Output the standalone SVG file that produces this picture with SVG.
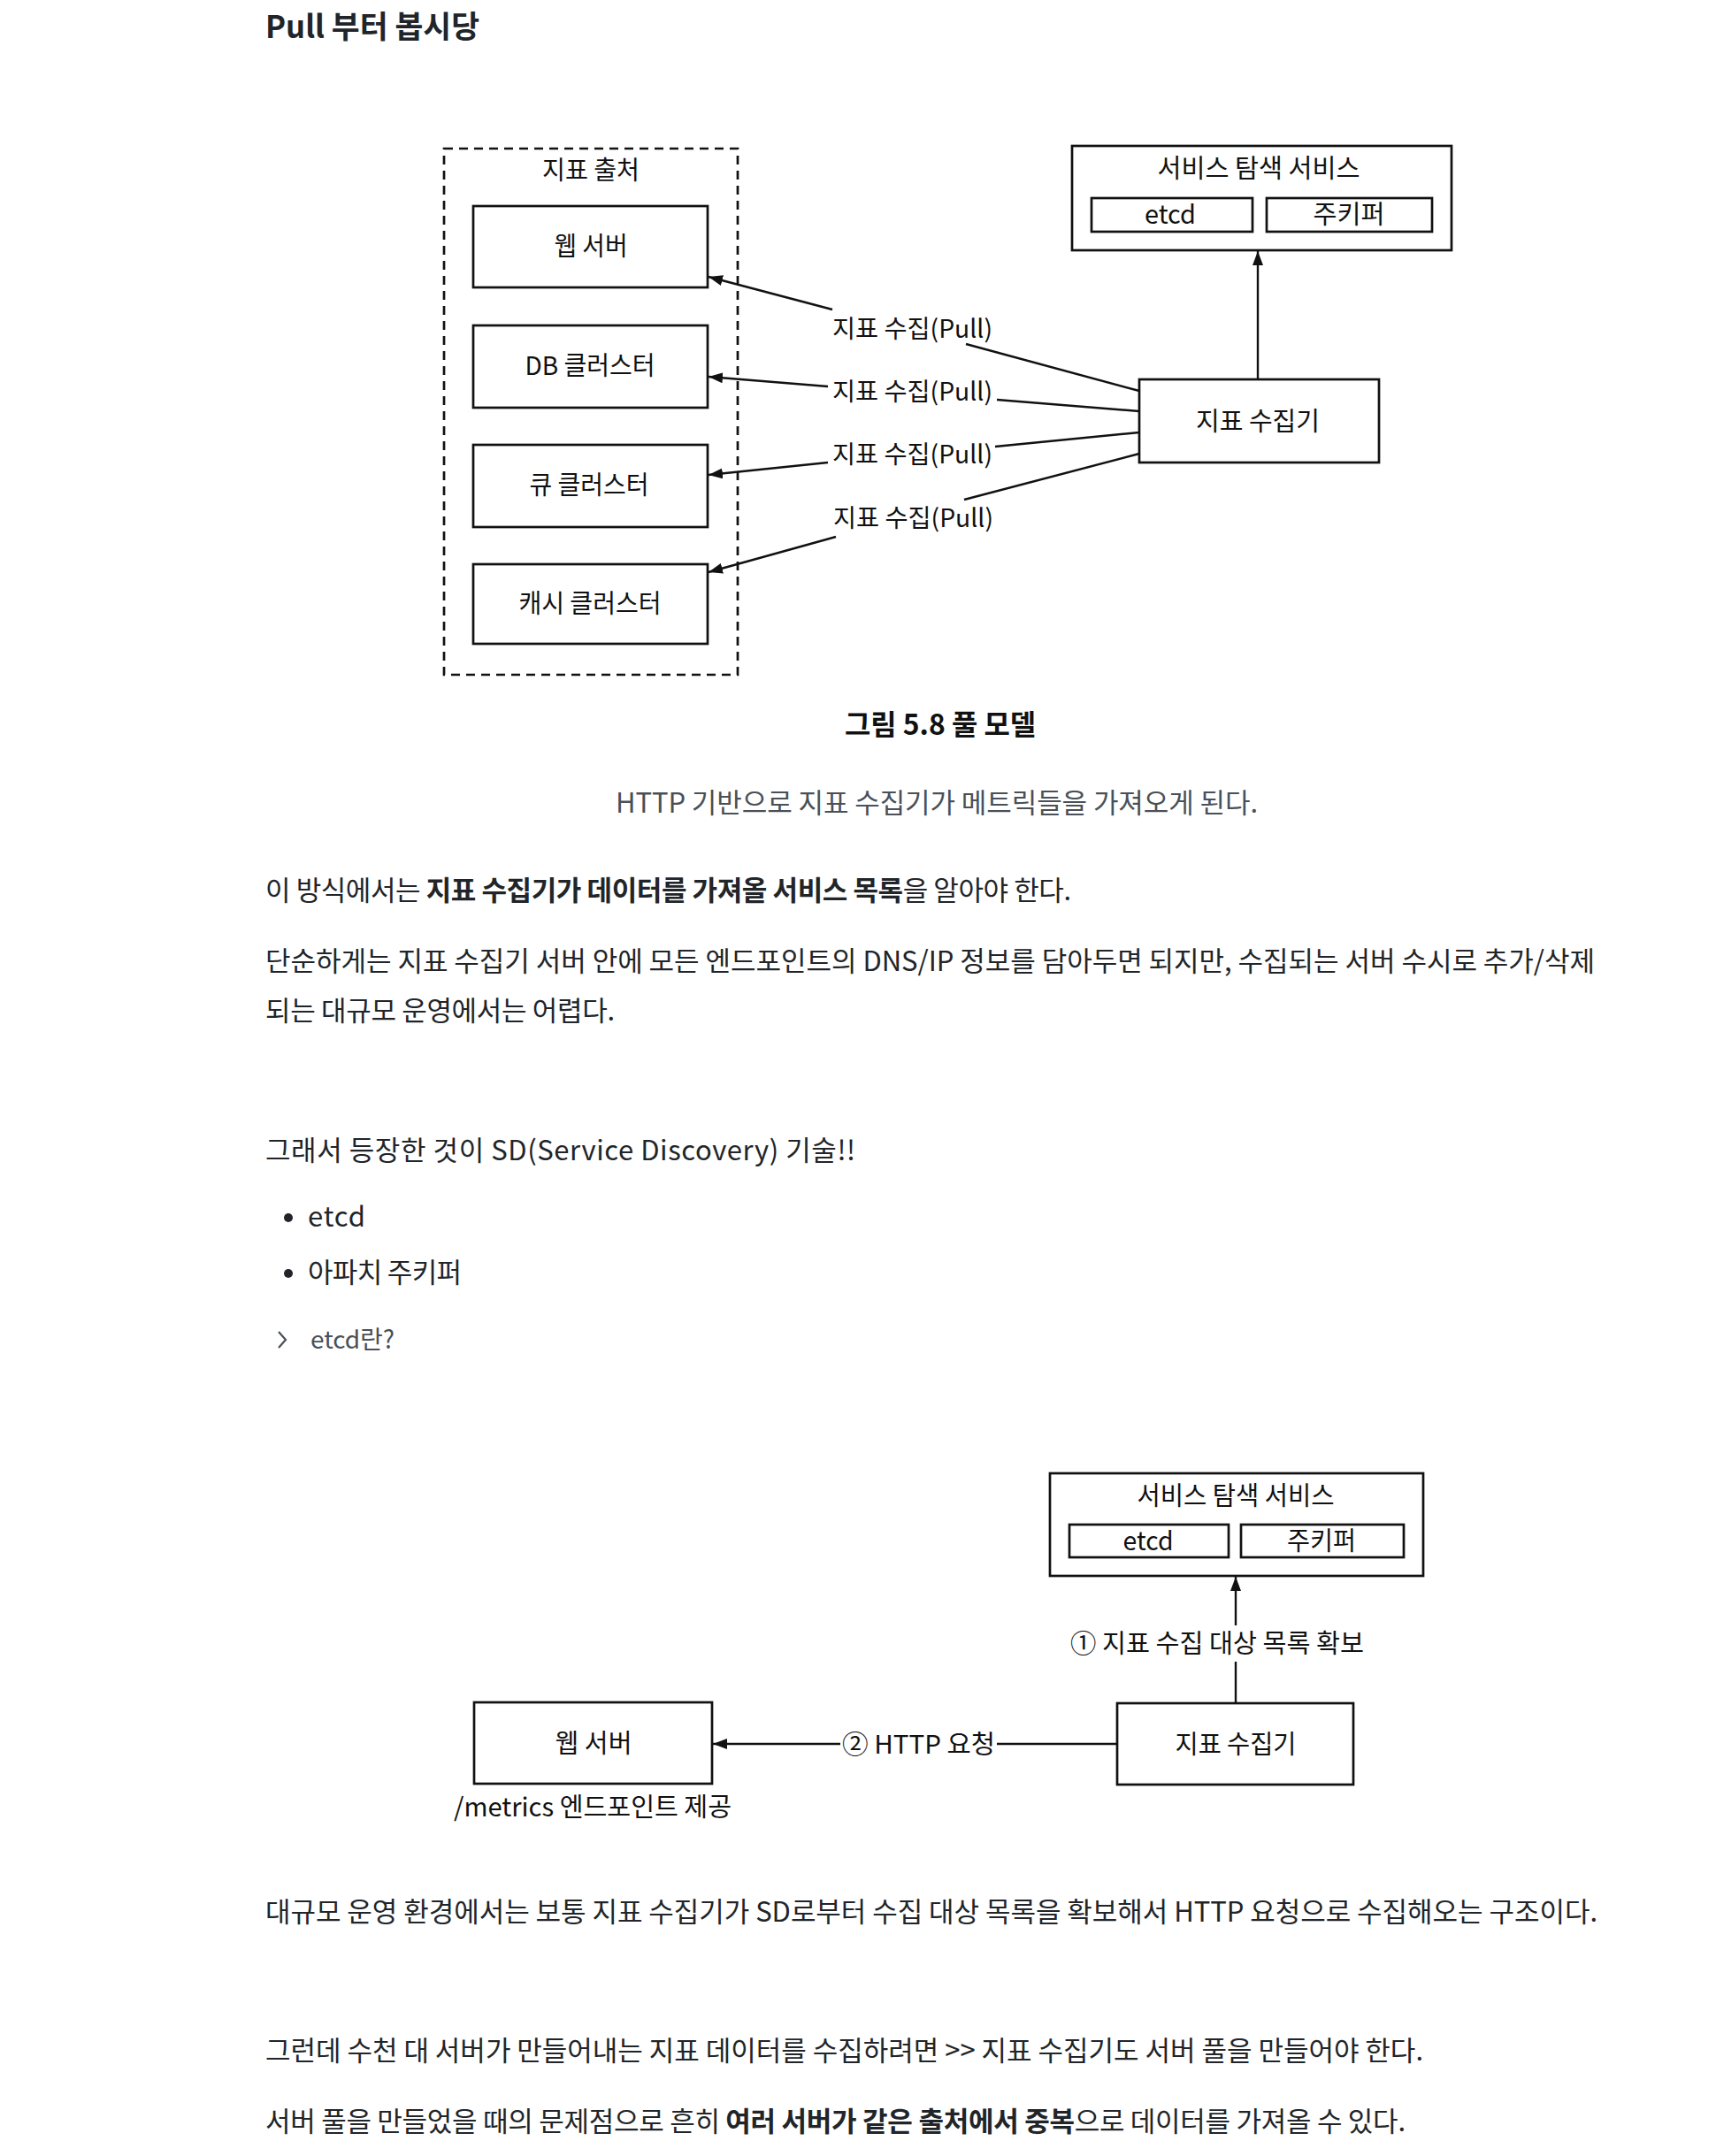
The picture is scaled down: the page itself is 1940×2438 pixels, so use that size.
<svg xmlns="http://www.w3.org/2000/svg" width="1940" height="2438" viewBox="0 0 1940 2438">
<style>
text{font-family:"Noto Sans CJK KR","Noto Sans",sans-serif;}
.h{font-size:35px;font-weight:700;fill:#212529;}
.p{font-size:31px;fill:#212529;}
.b{font-weight:700;}
.g{fill:#495057;}
.d{font-size:29px;fill:#111;}
.dl{font-size:28px;fill:#111;}
.cap{font-size:32px;font-weight:700;fill:#111;}
.box{fill:none;stroke:#111;stroke-width:2.7;}
.dash{fill:none;stroke:#111;stroke-width:2.7;stroke-dasharray:10 7;}
.ln{fill:none;stroke:#111;stroke-width:2.4;}
</style>
<defs>
<marker id="ah" viewBox="0 0 16 12" refX="16" refY="6" markerWidth="16" markerHeight="12" markerUnits="userSpaceOnUse" orient="auto">
<path d="M0,0 L16,6 L0,12 z" fill="#111"/>
</marker>
</defs>
<rect width="1940" height="2438" fill="#fff"/>
<text class="h" x="300" y="43" textLength="242" lengthAdjust="spacingAndGlyphs">Pull 부터 봅시당</text>

<!-- Diagram 1 -->
<g id="source-group">
<rect class="dash" x="502" y="168" width="332" height="595"/>
<text class="d" x="668" y="203" text-anchor="middle" textLength="110" lengthAdjust="spacingAndGlyphs">지표 출처</text>
</g>
<g id="web-server"><rect class="box" x="535" y="233" width="265" height="92"/><text class="d" x="668" y="289" text-anchor="middle" textLength="83" lengthAdjust="spacingAndGlyphs">웹 서버</text></g>
<g id="db-cluster"><rect class="box" x="535" y="368" width="265" height="93"/><text class="d" x="667" y="424" text-anchor="middle" textLength="147" lengthAdjust="spacingAndGlyphs">DB 클러스터</text></g>
<g id="queue-cluster"><rect class="box" x="535" y="503" width="265" height="93"/><text class="d" x="666" y="559" text-anchor="middle" textLength="135" lengthAdjust="spacingAndGlyphs">큐 클러스터</text></g>
<g id="cache-cluster"><rect class="box" x="535" y="638" width="265" height="90"/><text class="d" x="667" y="693" text-anchor="middle" textLength="161" lengthAdjust="spacingAndGlyphs">캐시 클러스터</text></g>
<g id="sd-service">
<rect class="box" x="1212" y="165" width="429" height="118"/>
<text class="d" x="1423" y="201" text-anchor="middle" textLength="229" lengthAdjust="spacingAndGlyphs">서비스 탐색 서비스</text>
<rect class="box" x="1234" y="224" width="182" height="38"/><text class="d" x="1323" y="253" text-anchor="middle" textLength="58" lengthAdjust="spacingAndGlyphs">etcd</text>
<rect class="box" x="1432" y="224" width="187" height="38"/><text class="d" x="1525" y="253" text-anchor="middle" textLength="81" lengthAdjust="spacingAndGlyphs">주키퍼</text>
</g>
<g id="collector"><rect class="box" x="1288" y="429" width="271" height="94"/><text class="d" x="1422" y="487" text-anchor="middle" textLength="140" lengthAdjust="spacingAndGlyphs">지표 수집기</text></g>

<g id="connectors1">
<line class="ln" x1="1422" y1="429" x2="1422" y2="284" marker-end="url(#ah)"/>
<line class="ln" x1="1288" y1="442" x2="1092" y2="389"/>
<line class="ln" x1="941" y1="350" x2="801" y2="313" marker-end="url(#ah)"/>
<text class="dl" x="941" y="382" textLength="181" lengthAdjust="spacingAndGlyphs">지표 수집(Pull)</text>
<line class="ln" x1="1288" y1="465" x2="1127" y2="452"/>
<line class="ln" x1="936" y1="437" x2="801" y2="426" marker-end="url(#ah)"/>
<text class="dl" x="941" y="453" textLength="181" lengthAdjust="spacingAndGlyphs">지표 수집(Pull)</text>
<line class="ln" x1="1288" y1="489" x2="1125" y2="505"/>
<line class="ln" x1="936" y1="523" x2="801" y2="537" marker-end="url(#ah)"/>
<text class="dl" x="941" y="524" textLength="181" lengthAdjust="spacingAndGlyphs">지표 수집(Pull)</text>
<line class="ln" x1="1288" y1="513" x2="1090" y2="565"/>
<line class="ln" x1="945" y1="607" x2="801" y2="647" marker-end="url(#ah)"/>
<text class="dl" x="942" y="596" textLength="181" lengthAdjust="spacingAndGlyphs">지표 수집(Pull)</text>
</g>

<text class="cap" x="1063" y="831" text-anchor="middle" textLength="216" lengthAdjust="spacingAndGlyphs">그림 5.8 풀 모델</text>
<text class="p g" x="1059" y="919" text-anchor="middle" textLength="726">HTTP 기반으로 지표 수집기가 메트릭들을 가져오게 된다.</text>

<text class="p" x="300" y="1018" textLength="911">이 방식에서는 <tspan class="b">지표 수집기가 데이터를 가져올 서비스 목록</tspan>을 알아야 한다.</text>
<text class="p" x="300" y="1098" textLength="1503">단순하게는 지표 수집기 서버 안에 모든 엔드포인트의 DNS/IP 정보를 담아두면 되지만, 수집되는 서버 수시로 추가/삭제</text>
<text class="p" x="300" y="1154" textLength="395">되는 대규모 운영에서는 어렵다.</text>

<text class="p" x="300" y="1312" textLength="667">그래서 등장한 것이 SD(Service Discovery) 기술!!</text>
<circle cx="326" cy="1377" r="5" fill="#212529"/>
<text class="p" x="348" y="1387" textLength="65">etcd</text>
<circle cx="326" cy="1440" r="5" fill="#212529"/>
<text class="p" x="348" y="1450" textLength="174">아파치 주키퍼</text>
<path d="M315,1506 L323,1515 L315,1524" fill="none" stroke="#495057" stroke-width="2.2"/>
<text class="p g" x="351" y="1525" style="font-size:28px" textLength="95">etcd란?</text>

<!-- Diagram 2 -->
<g id="sd-service-2">
<rect class="box" x="1187" y="1666" width="422" height="116"/>
<text class="d" x="1397" y="1702" text-anchor="middle" textLength="223" lengthAdjust="spacingAndGlyphs">서비스 탐색 서비스</text>
<rect class="box" x="1209" y="1724" width="180" height="37"/><text class="d" x="1298" y="1753" text-anchor="middle" textLength="57" lengthAdjust="spacingAndGlyphs">etcd</text>
<rect class="box" x="1403" y="1724" width="184" height="37"/><text class="d" x="1494" y="1753" text-anchor="middle" textLength="78" lengthAdjust="spacingAndGlyphs">주키퍼</text>
</g>
<g id="collector-2"><rect class="box" x="1263" y="1926" width="267" height="92"/><text class="d" x="1397" y="1983" text-anchor="middle" textLength="137" lengthAdjust="spacingAndGlyphs">지표 수집기</text></g>
<g id="web-server-2"><rect class="box" x="536" y="1925" width="269" height="92"/><text class="d" x="671" y="1982" text-anchor="middle" textLength="87" lengthAdjust="spacingAndGlyphs">웹 서버</text>
<text class="d" x="513" y="2054" textLength="314" lengthAdjust="spacingAndGlyphs">/metrics 엔드포인트 제공</text></g>
<g id="connectors2">
<line class="ln" x1="1397" y1="1838" x2="1397" y2="1783" marker-end="url(#ah)"/>
<line class="ln" x1="1397" y1="1879" x2="1397" y2="1926"/>
<text class="d" x="1210" y="1869" textLength="332" lengthAdjust="spacingAndGlyphs">① 지표 수집 대상 목록 확보</text>
<line class="ln" x1="1263" y1="1972" x2="1127" y2="1972"/>
<line class="ln" x1="950" y1="1972" x2="806" y2="1972" marker-end="url(#ah)"/>
<text class="d" x="952" y="1983" textLength="173" lengthAdjust="spacingAndGlyphs">② HTTP 요청</text>
</g>

<text class="p" x="300" y="2173" textLength="1506">대규모 운영 환경에서는 보통 지표 수집기가 SD로부터 수집 대상 목록을 확보해서 HTTP 요청으로 수집해오는 구조이다.</text>
<text class="p" x="300" y="2330" textLength="1309">그런데 수천 대 서버가 만들어내는 지표 데이터를 수집하려면 &gt;&gt; 지표 수집기도 서버 풀을 만들어야 한다.</text>
<text class="p" x="300" y="2410" textLength="1289">서버 풀을 만들었을 때의 문제점으로 흔히 <tspan class="b">여러 서버가 같은 출처에서 중복</tspan>으로 데이터를 가져올 수 있다.</text>
</svg>
